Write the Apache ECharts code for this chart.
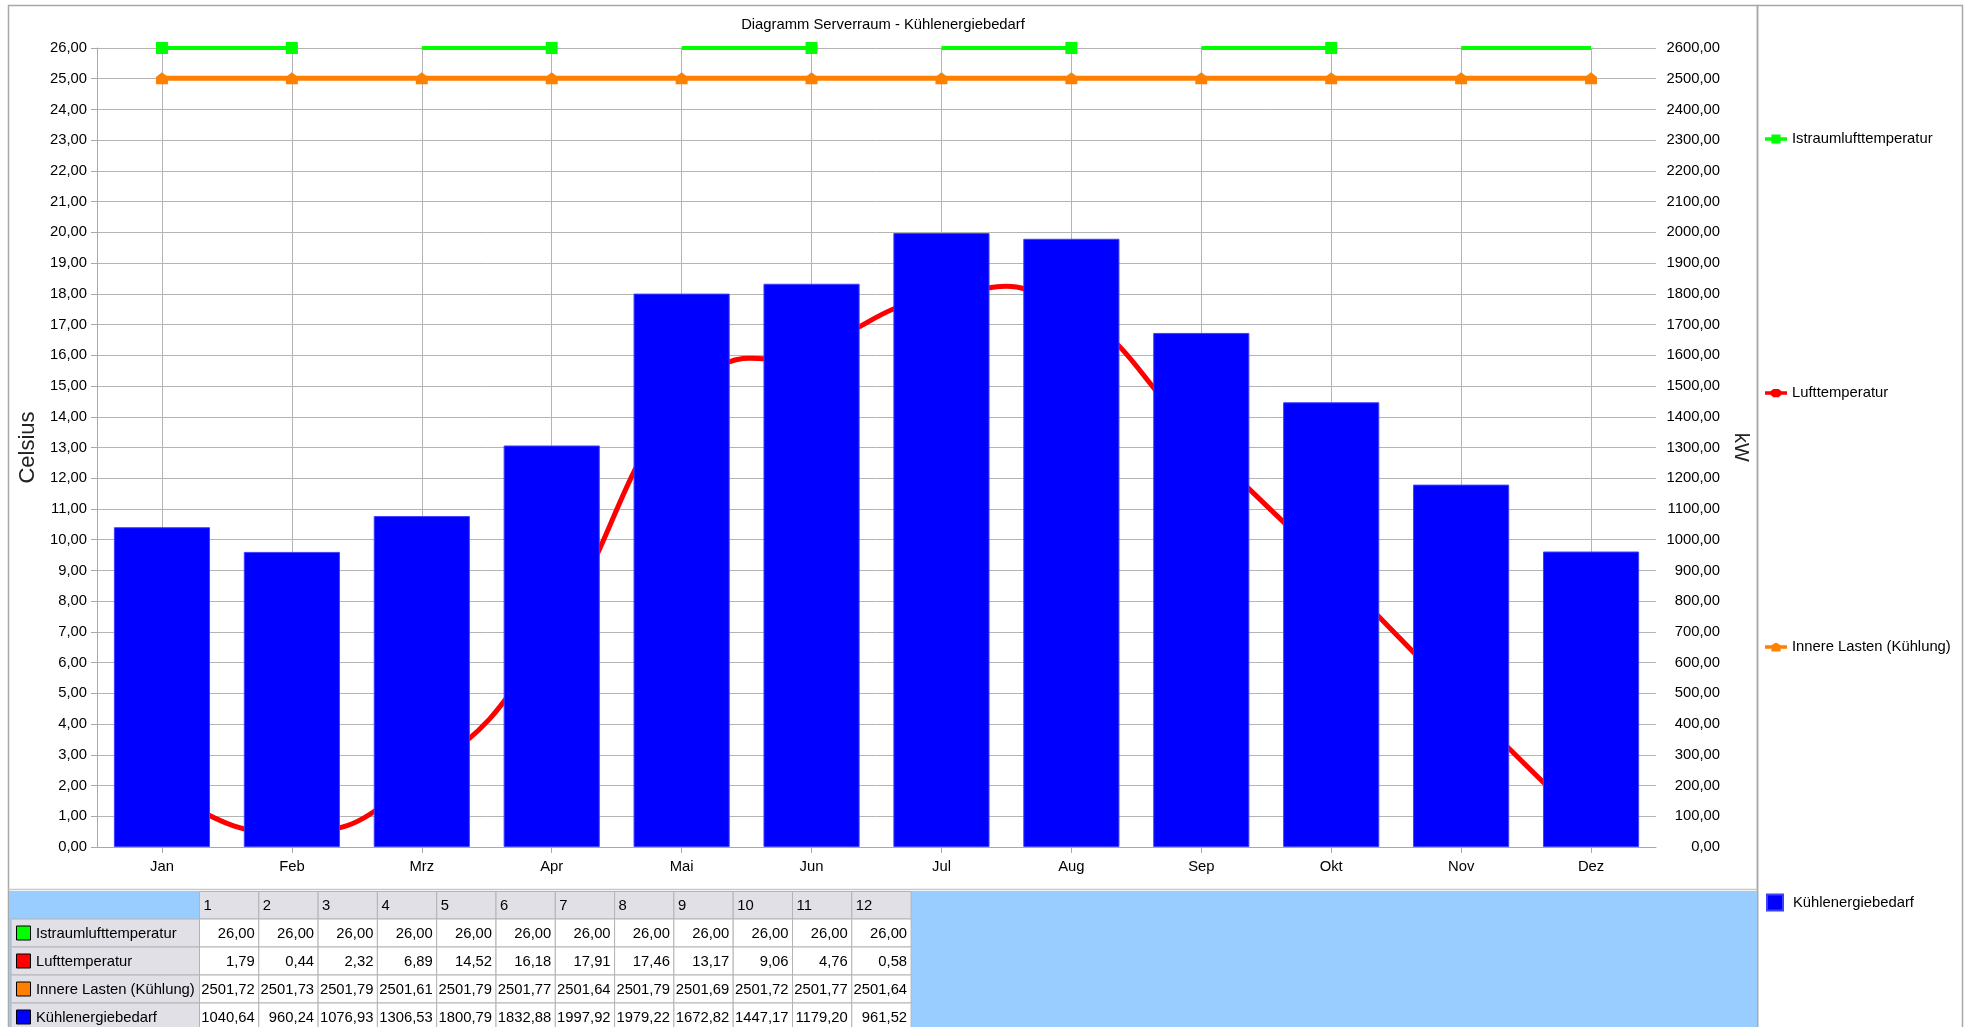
<!DOCTYPE html>
<html>
<head>
<meta charset="utf-8">
<title>Diagramm Serverraum - Kühlenergiebedarf</title>
<script src="https://cdn.jsdelivr.net/npm/echarts@6/dist/echarts.min.js"></script>
<style>
  html, body { margin: 0; padding: 0; background: #fff; }
  #chart { width: 1968px; height: 1027px; }
</style>
</head>
<body>
<div id="chart"></div>
<script>
// Monate / Kategorien
const months = ['Jan', 'Feb', 'Mrz', 'Apr', 'Mai', 'Jun', 'Jul', 'Aug', 'Sep', 'Okt', 'Nov', 'Dez']

// Werte aus der Tabelle
const istraumluft = [26, 26, 26, 26, 26, 26, 26, 26, 26, 26, 26, 26]
const lufttemperatur = [1.79, 0.44, 2.32, 6.89, 14.52, 16.18, 17.91, 17.46, 13.17, 9.06, 4.76, 0.58]
const innereLasten = [2501.72, 2501.73, 2501.79, 2501.61, 2501.79, 2501.77, 2501.64, 2501.79, 2501.69, 2501.72, 2501.77, 2501.64]
const kuehlenergie = [1040.64, 960.24, 1076.93, 1306.53, 1800.79, 1832.88, 1997.92, 1979.22, 1672.82, 1447.17, 1179.20, 961.52]

// Monate, an denen die Istraumluft-Linie eine Markierung hat
const istMarkMonths = ['Jan', 'Feb', 'Apr', 'Jun', 'Aug', 'Okt']

const names = ['Istraumlufttemperatur', 'Lufttemperatur', 'Innere Lasten (Kühlung)', 'Kühlenergiebedarf']
const colors = ['#00ff00', '#ff0000', '#ff8000', '#0000ff']
const tableRows = [istraumluft, lufttemperatur, innereLasten, kuehlenergie]

const FONT = '"Liberation Sans", Arial, sans-serif'
const FS = 14.8
const fmt = v => v.toFixed(2).replace('.', ',')

const W = 1968
const H = 1027
const gridLeft = 97
const gridRight = 312
const gridTop = 48
const gridBottom = 180
const band = (W - gridLeft - gridRight) / months.length

const houseSymbol = 'path://M0,10L0,4L5,0L10,4L10,10Z'
// Legenden-Icons (Linie + Marker)
const legendIcons = [
  'path://M0,3L7,3L7,0L17,0L17,3L24,3L24,7L17,7L17,10L7,10L7,7L0,7Z',
  'path://M0,3L6,3L9,0.5L15,0.5L18,3L24,3L24,7L18,7L15,9.5L9,9.5L6,7L0,7Z',
  'path://M0,3L7,3L12,0L17,3L24,3L24,7L17,7L17,10L7,10L7,7L0,7Z',
  'rect'
]

// Spline durch die Lufttemperatur (Cardinal, Spannung 0.25)
const splineK = 0.25
function renderSpline(params, api) {
  const i = params.dataIndex
  const n = lufttemperatur.length
  if (i >= n - 1) return null
  const p = k => {
    const j = Math.max(0, Math.min(n - 1, k))
    return api.coord([j, lufttemperatur[j]])
  }
  const p0 = p(i - 1), p1 = p(i), p2 = p(i + 1), p3 = p(i + 2)
  return {
    type: 'bezierCurve',
    shape: {
      x1: p1[0], y1: p1[1],
      x2: p2[0], y2: p2[1],
      cpx1: p1[0] + (p2[0] - p0[0]) * splineK,
      cpy1: p1[1] + (p2[1] - p0[1]) * splineK,
      cpx2: p2[0] - (p3[0] - p1[0]) * splineK,
      cpy2: p2[1] - (p3[1] - p1[1]) * splineK
    },
    style: { stroke: colors[1], lineWidth: 5, fill: null, lineCap: 'round' }
  }
}

// Tabelle unter dem Diagramm
function buildTable() {
  const els = []
  const x0 = 11
  const labelW = 188.5
  const colW = 59.3
  const headTop = 891.5
  const headH = 27.5
  const rowH = 28

  els.push({
    type: 'rect', silent: true,
    shape: { x: 9, y: 891, width: 1748, height: H - 891 },
    style: { fill: '#99ccff' }
  })
  months.forEach((m, j) => {
    const x = x0 + labelW + j * colW
    els.push({
      type: 'rect', silent: true,
      shape: { x: x, y: headTop, width: colW, height: headH },
      style: { fill: '#e0e0e6', stroke: '#b4b4b4', lineWidth: 1 }
    })
    els.push({
      type: 'text', silent: true, x: x + 4, y: headTop + headH / 2 + 1,
      style: { text: String(j + 1), fill: '#000', fontSize: FS, fontFamily: FONT, align: 'left', verticalAlign: 'middle' }
    })
  })
  tableRows.forEach((row, i) => {
    const y = headTop + headH + i * rowH
    els.push({
      type: 'rect', silent: true,
      shape: { x: x0, y: y, width: labelW, height: rowH },
      style: { fill: '#e0e0e6', stroke: '#b4b4b4', lineWidth: 1 }
    })
    els.push({
      type: 'rect', silent: true,
      shape: { x: 16.5, y: y + rowH / 2 - 7, width: 14, height: 14 },
      style: { fill: colors[i], stroke: '#000', lineWidth: 1 }
    })
    els.push({
      type: 'text', silent: true, x: 36, y: y + rowH / 2 + 1,
      style: { text: names[i], fill: '#000', fontSize: FS, fontFamily: FONT, align: 'left', verticalAlign: 'middle' }
    })
    row.forEach((v, j) => {
      const x = x0 + labelW + j * colW
      els.push({
        type: 'rect', silent: true,
        shape: { x: x, y: y, width: colW, height: rowH },
        style: { fill: '#fff', stroke: '#b4b4b4', lineWidth: 1 }
      })
      els.push({
        type: 'text', silent: true, x: x + colW - 4, y: y + rowH / 2 + 1,
        style: { text: fmt(v), fill: '#000', fontSize: FS, fontFamily: FONT, align: 'right', verticalAlign: 'middle' }
      })
    })
  })
  return els
}

// Rahmen der Panels
const frames = [
  { type: 'rect', silent: true, z: -1, shape: { x: 8.5, y: 5.5, width: 1749, height: 1040 }, style: { fill: 'none', stroke: '#a8a8a8', lineWidth: 1.5 } },
  { type: 'rect', silent: true, z: -1, shape: { x: 1757.5, y: 5.5, width: 205, height: 1040 }, style: { fill: 'none', stroke: '#a8a8a8', lineWidth: 1.5 } },
  { type: 'line', silent: true, shape: { x1: 8.5, y1: 889.5, x2: 1757.5, y2: 889.5 }, style: { stroke: '#c8c8c8', lineWidth: 1.5 } }
]

// Legende: jedes Element einzeln untereinander
const legendCenters = [138, 392, 646, 900]
const legends = names.map((n, i) => ({
  data: [{ name: n, icon: legendIcons[i] }],
  left: i === 3 ? 1761 : 1760,
  top: legendCenters[i] - 11.5,
  orient: 'vertical',
  itemWidth: i === 3 ? 16 : 22,
  itemHeight: i === 3 ? 16 : 10,
  itemGap: 6,
  selectedMode: false,
  textStyle: { color: '#000', fontSize: FS, fontFamily: FONT, padding: i === 3 ? [0, 0, 0, 5] : 0 }
}))

const chart = echarts.init(document.getElementById('chart'))

const option = {
  animation: false,
  backgroundColor: '#fff',
  textStyle: { fontFamily: FONT },
  title: {
    text: 'Diagramm Serverraum - Kühlenergiebedarf',
    left: 883,
    top: 17,
    padding: 0,
    textAlign: 'center',
    textStyle: { color: '#000', fontSize: FS, fontWeight: 'normal', fontFamily: FONT }
  },
  legend: legends,
  grid: { left: gridLeft, right: gridRight, top: gridTop, bottom: gridBottom, containLabel: false },
  xAxis: {
    type: 'category',
    data: months,
    boundaryGap: true,
    axisLine: { show: true, lineStyle: { color: '#a8a8a8' } },
    axisTick: { show: true, alignWithLabel: true, length: 6, lineStyle: { color: '#a8a8a8' } },
    axisLabel: { color: '#000', fontSize: FS, fontFamily: FONT, margin: 12 },
    splitLine: { show: true, alignWithLabel: true, lineStyle: { color: '#b4b4b4', width: 1 } }
  },
  yAxis: [
    {
      type: 'value',
      name: 'Celsius',
      nameLocation: 'middle',
      nameGap: 51,
      nameTextStyle: { color: '#222', fontSize: 22, fontFamily: FONT },
      min: 0,
      max: 26,
      interval: 1,
      axisLine: { show: true, lineStyle: { color: '#a8a8a8' } },
      axisTick: { show: true, length: 6, lineStyle: { color: '#a8a8a8' } },
      axisLabel: { color: '#000', fontSize: FS, fontFamily: FONT, margin: 10, formatter: fmt },
      splitLine: { show: true, lineStyle: { color: '#b4b4b4', width: 1 } }
    },
    {
      type: 'value',
      name: 'kW',
      nameLocation: 'middle',
      nameGap: 69,
      nameRotate: -90,
      nameTextStyle: { color: '#222', fontSize: 20, fontFamily: FONT },
      min: 0,
      max: 2600,
      interval: 100,
      axisLine: { show: false },
      axisTick: { show: false },
      axisLabel: { color: '#000', fontSize: FS, fontFamily: FONT, margin: 64, align: 'right', formatter: fmt },
      splitLine: { show: false }
    }
  ],
  series: [
    {
      name: names[0],
      type: 'line',
      yAxisIndex: 0,
      z: 4,
      clip: false,
      data: istraumluft.map((v, i) => ({
        value: v,
        symbol: istMarkMonths.includes(months[i]) ? 'rect' : 'none'
      })),
      symbol: 'rect',
      symbolSize: 12,
      showSymbol: true,
      itemStyle: { color: colors[0] },
      lineStyle: { color: colors[0], width: 4, type: [band, band] }
    },
    {
      name: names[1],
      type: 'custom',
      yAxisIndex: 0,
      z: 1,
      renderItem: renderSpline,
      data: lufttemperatur.map((v, i) => [months[i], v]),
      encode: { x: 0, y: 1 },
      itemStyle: { color: colors[1] }
    },
    {
      name: names[2],
      type: 'line',
      yAxisIndex: 1,
      z: 4,
      clip: false,
      data: innereLasten,
      symbol: houseSymbol,
      symbolSize: 12,
      itemStyle: { color: colors[2] },
      lineStyle: { color: colors[2], width: 5 }
    },
    {
      name: names[3],
      type: 'bar',
      yAxisIndex: 1,
      z: 2,
      barWidth: '74%',
      data: kuehlenergie,
      itemStyle: { color: colors[3], borderColor: '#4040ff', borderWidth: 1 }
    }
  ],
  graphic: frames.concat(buildTable())
}

chart.setOption(option)
</script>
</body>
</html>
